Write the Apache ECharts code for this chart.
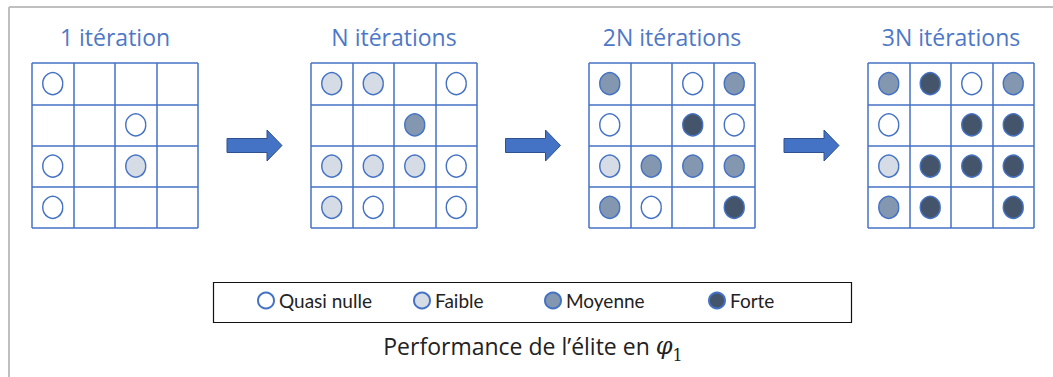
<!DOCTYPE html>
<html>
<head>
<meta charset="utf-8">
<script src="https://cdn.jsdelivr.net/npm/echarts@6/dist/echarts.min.js"></script>
<style>
  html, body { margin: 0; padding: 0; background: #fff; }
  #chart { width: 1053px; height: 377px; }
</style>
</head>
<body>
<div id="chart"></div>
<script>
(function() {
  var blue = '#4472C4';
  var font = 'Open Sans';

  var stageTitles = ['1 itération', 'N itérations', '2N itérations', '3N itérations'];
  var levelNames = ['Quasi nulle', 'Faible', 'Moyenne', 'Forte'];
  var levelColors = ['#ffffff', '#D6DCE5', '#8497B0', '#44546A'];

  // 0 = empty cell, 1..4 = level index + 1 (rows top to bottom)
  var stage1 = [[1, 0, 0, 0], [0, 0, 1, 0], [1, 0, 2, 0], [1, 0, 0, 0]];
  var stage2 = [[2, 2, 0, 1], [0, 0, 3, 0], [2, 2, 2, 1], [2, 1, 0, 1]];
  var stage3 = [[3, 0, 1, 3], [1, 0, 4, 1], [2, 3, 3, 3], [3, 1, 0, 4]];
  var stage4 = [[3, 4, 1, 3], [1, 0, 4, 4], [2, 4, 4, 4], [3, 4, 0, 4]];
  var stages = [stage1, stage2, stage3, stage4];

  var caption = 'Performance de l\u2019élite en {phi|φ}{sub|1}';

  var gridLefts = [32, 311, 589, 868];
  var gridTop = 63, gridSize = 166;
  var legendLefts = [257, 413, 544, 708];

  var grids = [], xAxes = [], yAxes = [], titles = [], series = [];
  gridLefts.forEach(function(left, g) {
    grids.push({ left: left, top: gridTop, width: gridSize, height: gridSize - 1 });
    var ax = {
      type: 'value', gridIndex: g, min: 0, max: 4, interval: 1,
      axisLabel: { show: false }, axisTick: { show: false }, axisLine: { show: false },
      splitLine: { show: true, lineStyle: { color: blue, width: 1.5 } }
    };
    xAxes.push(ax);
    yAxes.push(Object.assign({}, ax, { inverse: true }));
    titles.push({
      text: stageTitles[g], left: left + gridSize / 2, top: 25, padding: 0, textAlign: 'center',
      textStyle: { color: '#4E78C6', fontFamily: font, fontWeight: 'normal', fontSize: 23 }
    });
    levelNames.forEach(function(name, l) {
      var pts = [];
      stages[g].forEach(function(row, r) {
        row.forEach(function(v, c) {
          if (v === l + 1) pts.push([c + 0.5, r + 0.5]);
        });
      });
      series.push({
        name: name, type: 'scatter', xAxisIndex: g, yAxisIndex: g,
        symbol: 'circle', symbolSize: [20, 22], data: pts,
        itemStyle: { color: levelColors[l], borderColor: blue, borderWidth: 1.5, opacity: 1 },
        emphasis: { disabled: true }
      });
    });
  });

  titles.push({
    text: caption, left: 533, top: 329, padding: 0, textAlign: 'center',
    textStyle: {
      color: '#222', fontFamily: font, fontWeight: 'normal', fontSize: 23, lineHeight: 34,
      rich: {
        phi: { fontFamily: 'DejaVu Serif', fontStyle: 'italic', fontSize: 24, color: '#222', lineHeight: 34 },
        sub: { fontFamily: 'DejaVu Serif', fontSize: 16, color: '#222', lineHeight: 16, verticalAlign: 'bottom' }
      }
    }
  });

  var legends = levelNames.map(function(name, l) {
    return {
      data: [name], left: legendLefts[l], top: 291, padding: 0,
      icon: 'circle', itemWidth: 16, itemHeight: 17, itemGap: 4,
      selectedMode: false,
      textStyle: { color: '#222', fontFamily: 'Lato', fontSize: 19 }
    };
  });

  // arrows centred in the gaps between the grids
  var graphics = [
    { type: 'line', shape: { x1: 9, y1: 7, x2: 1053, y2: 7 }, style: { stroke: '#BFBFBF', lineWidth: 2 } },
    { type: 'line', shape: { x1: 9, y1: 7, x2: 9, y2: 377 }, style: { stroke: '#BFBFBF', lineWidth: 2 } },
    { type: 'rect', shape: { x: 213.5, y: 282.5, width: 638, height: 40 }, style: { fill: 'none', stroke: '#111', lineWidth: 1.2 } }
  ];
  for (var i = 0; i < 3; i++) {
    var cx = (gridLefts[i] + gridSize + gridLefts[i + 1]) / 2;
    var x0 = cx - 27.5, cy = 145.5;
    graphics.push({
      type: 'polygon',
      shape: { points: [[x0, cy - 7], [x0 + 40, cy - 7], [x0 + 40, cy - 15.5], [x0 + 55, cy], [x0 + 40, cy + 15.5], [x0 + 40, cy + 7], [x0, cy + 7]] },
      style: { fill: blue, stroke: '#2F528F', lineWidth: 1 }
    });
  }

  var chart = echarts.init(document.getElementById('chart'), null, { renderer: 'svg' });
  chart.setOption({
    animation: false,
    backgroundColor: '#fff',
    title: titles,
    grid: grids,
    xAxis: xAxes,
    yAxis: yAxes,
    legend: legends,
    graphic: graphics,
    series: series
  });
  window.addEventListener('resize', function() { chart.resize(); });
})();
</script>
</body>
</html>
